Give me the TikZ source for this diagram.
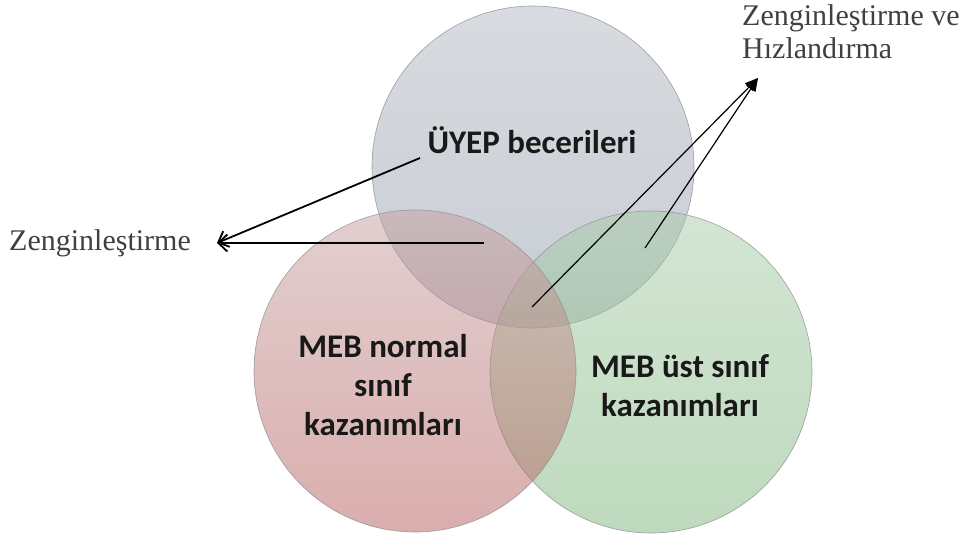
\documentclass[tikz,border=0pt]{standalone}
\usepackage{fontspec}
\setmainfont{Liberation Serif}
\newfontfamily\boxfont{Carlito}
\usetikzlibrary{arrows.meta}
\definecolor{topA}{RGB}{177,183,191}
\definecolor{topB}{RGB}{145,155,171}
\definecolor{leftA}{RGB}{197,160,160}
\definecolor{leftB}{RGB}{181,92,92}
\definecolor{rightA}{RGB}{168,203,168}
\definecolor{rightB}{RGB}{125,181,125}
\definecolor{ringcol}{RGB}{140,140,145}
\tikzset{
  setcirc/.style={draw=ringcol, line width=0.6pt, fill opacity=0.5, draw opacity=0.8},
  settext/.style={font=\boxfont\bfseries\fontsize{33}{39}\selectfont, align=center, text=black!90},
  lbl/.style={font=\fontsize{30}{33}\selectfont, text=black!75, align=left, inner sep=0pt},
  leftarrow/.style={line width=1.8pt, -{Straight Barb[length=9pt,width=17pt,line width=1.8pt]}},
  rightarrow/.style={line width=1.2pt, -{Triangle[length=13pt,width=11pt]}}
}
\begin{document}
\begin{tikzpicture}[x=1pt,y=-1pt]
\useasboundingbox (0,0) rectangle (963,535);
\coordinate (ctop) at (533,167);
\coordinate (cleft) at (415,371);
\coordinate (cright) at (651,372);
\shade[setcirc, top color=topA, bottom color=topB] (ctop) circle[radius=161];
\shade[setcirc, top color=rightA, bottom color=rightB] (cright) circle[radius=161];
\shade[setcirc, top color=leftA, bottom color=leftB] (cleft) circle[radius=161];

\node[settext] (ttop) at (532,140) {ÜYEP becerileri};
\node[settext] (tleft) at (383,385) {MEB normal\\sınıf\\kazanımları};
\node[settext] (tright) at (680,386) {MEB üst sınıf\\kazanımları};

\node[lbl, anchor=west] (zleft) at (9,243) {Zenginleştirme};
\node[lbl, anchor=north west] (zright) at (742,4) {Zenginleştirme ve\\Hızlandırma};

\coordinate (tipL) at (217,243);
\coordinate (tipR) at (758,78);
\coordinate (s1) at (420,158);
\coordinate (s2) at (484,243);
\coordinate (s3) at (532,307);
\coordinate (s4) at (645,248);

\draw[leftarrow] (s1) -- (tipL);
\draw[leftarrow] (s2) -- (tipL);
\draw[rightarrow] (s3) -- (tipR);
\draw[rightarrow] (s4) -- (tipR);
\end{tikzpicture}
\end{document}
